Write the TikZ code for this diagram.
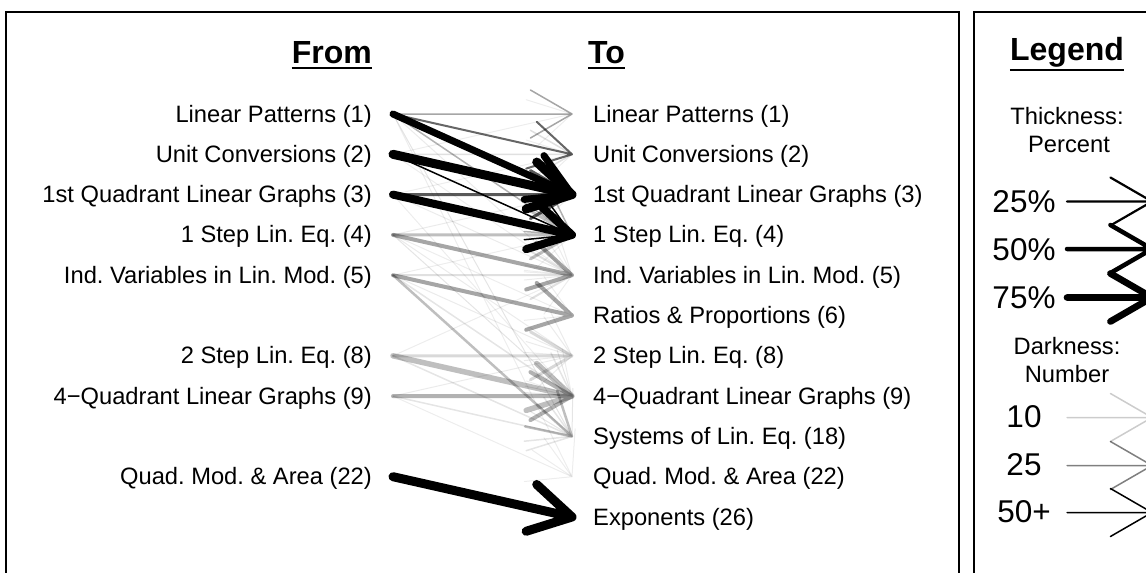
\documentclass[tikz,border=0pt]{standalone}
\usepackage{fontspec}
\setmainfont{Liberation Sans}
\usetikzlibrary{calc}
\frenchspacing
\tikzset{
 lab/.style={inner sep=0pt, font=\fontsize{23.7}{28}\selectfont},
 hdr/.style={inner sep=0pt, font=\fontsize{32}{38}\selectfont\bfseries},
 big/.style={inner sep=0pt, font=\fontsize{31.5}{38}\selectfont},
 panel/.style={line width=2pt},
 flowline/.style={line cap=round, line join=round},
 uline/.style={line width=2pt},
}
\newcommand\flowarr[4]{\draw[flowline, line width=#3pt, draw opacity=#4] (#1) -- (#2) ($(#2)!48pt!30:(#1)$) -- (#2) -- ($(#2)!48pt!-30:(#1)$);}
\begin{document}
\begin{tikzpicture}[x=1pt,y=-1pt]
\useasboundingbox (0,0) rectangle (1146,573);
\clip (0,0) rectangle (1146,573);
% panels
\draw[panel] (6,600) -- (6,12) -- (959,12) -- (959,600);
\draw[panel] (974,600) -- (974,12) -- (1180,12);
% headers
\node[hdr, anchor=base east] (hfrom) at (372,63) {From};
\node[hdr, anchor=base west] (hto) at (588,63) {To};
\draw[uline] ($(hfrom.south west)+(0,4)$) -- ($(hfrom.south east)+(0,4)$);
\draw[uline] ($(hto.south west)+(0,4)$) -- ($(hto.south east)+(0,4)$);
% from labels
\node[lab, anchor=base east] (f1) at (372,122) {Linear Patterns (1)};
\node[lab, anchor=base east] (f2) at (372,162.3) {Unit Conversions (2)};
\node[lab, anchor=base east] (f3) at (372,202.6) {1st Quadrant Linear Graphs (3)};
\node[lab, anchor=base east] (f4) at (372,242.9) {1 Step Lin. Eq. (4)};
\node[lab, anchor=base east] (f5) at (372,283.2) {Ind. Variables in Lin. Mod. (5)};
\node[lab, anchor=base east] (f8) at (372,363.8) {2 Step Lin. Eq. (8)};
\node[lab, anchor=base east] (f9) at (372,404.1) {4−Quadrant Linear Graphs (9)};
\node[lab, anchor=base east] (f22) at (372,484.7) {Quad. Mod. \& Area (22)};
% to labels
\node[lab, anchor=base west] (t1) at (593,122) {Linear Patterns (1)};
\node[lab, anchor=base west] (t2) at (593,162.3) {Unit Conversions (2)};
\node[lab, anchor=base west] (t3) at (593,202.6) {1st Quadrant Linear Graphs (3)};
\node[lab, anchor=base west] (t4) at (593,242.9) {1 Step Lin. Eq. (4)};
\node[lab, anchor=base west] (t5) at (593,283.2) {Ind. Variables in Lin. Mod. (5)};
\node[lab, anchor=base west] (t6) at (593,323.5) {Ratios \& Proportions (6)};
\node[lab, anchor=base west] (t8) at (593,363.8) {2 Step Lin. Eq. (8)};
\node[lab, anchor=base west] (t9) at (593,404.1) {4−Quadrant Linear Graphs (9)};
\node[lab, anchor=base west] (t18) at (593,444.4) {Systems of Lin. Eq. (18)};
\node[lab, anchor=base west] (t22) at (593,484.7) {Quad. Mod. \& Area (22)};
\node[lab, anchor=base west] (t26) at (593,525) {Exponents (26)};
% arrow anchor coordinates
\coordinate (s1) at (393,114);
\coordinate (s2) at (393,154.3);
\coordinate (s3) at (393,194.6);
\coordinate (s4) at (393,234.9);
\coordinate (s5) at (393,275.2);
\coordinate (s8) at (393,355.8);
\coordinate (s9) at (393,396.1);
\coordinate (s22) at (393,476.7);
\coordinate (e1) at (572,114);
\coordinate (e2) at (572,154.3);
\coordinate (e3) at (572,194.6);
\coordinate (e4) at (572,234.9);
\coordinate (e5) at (572,275.2);
\coordinate (e6) at (572,315.5);
\coordinate (e8) at (572,355.8);
\coordinate (e9) at (572,396.1);
\coordinate (e18) at (572,436.4);
\coordinate (e22) at (572,476.7);
\coordinate (e26) at (572,517);
% faint flows
\flowarr{s1}{e5}{1}{0.08}
\flowarr{s1}{e18}{1}{0.1}
\flowarr{s1}{e22}{1}{0.07}
\flowarr{s2}{e1}{1}{0.07}
\flowarr{s2}{e5}{1}{0.07}
\flowarr{s3}{e2}{1}{0.07}
\flowarr{s3}{e5}{1}{0.08}
\flowarr{s3}{e9}{1}{0.07}
\flowarr{s4}{e3}{1}{0.08}
\flowarr{s4}{e8}{1}{0.08}
\flowarr{s4}{e9}{1}{0.1}
\flowarr{s4}{e6}{1}{0.07}
\flowarr{s5}{e8}{1}{0.08}
\flowarr{s5}{e9}{1.5}{0.1}
\flowarr{s5}{e4}{1}{0.07}
\flowarr{s8}{e5}{1}{0.07}
\flowarr{s8}{e18}{1.5}{0.1}
\flowarr{s9}{e8}{1}{0.08}
\flowarr{s9}{e18}{1.5}{0.1}
\flowarr{s9}{e22}{1}{0.07}
\flowarr{s2}{e2}{1.5}{0.12}
\flowarr{s5}{e5}{2}{0.12}
\flowarr{s8}{e8}{3}{0.15}
% gray flows
\flowarr{s4}{e4}{3}{0.25}
\flowarr{s5}{e18}{2.5}{0.25}
\flowarr{s8}{e9}{5.5}{0.25}
\flowarr{s9}{e9}{4}{0.3}
\flowarr{s4}{e5}{4}{0.35}
\flowarr{s5}{e6}{4}{0.35}
\flowarr{s1}{e1}{1.5}{0.35}
\flowarr{s1}{e4}{1.5}{0.3}
\flowarr{s1}{e2}{2}{0.6}
\flowarr{s3}{e3}{3}{0.65}
% black flows
\flowarr{s2}{e4}{1.5}{1}
\flowarr{s1}{e3}{7}{1}
\flowarr{s2}{e3}{9}{1}
\flowarr{s3}{e4}{8}{1}
\flowarr{s22}{e26}{9}{1}
% legend
\node[hdr, anchor=base] (hleg) at (1067,60) {Legend};
\draw[uline] ($(hleg.south west)+(0,3.5)$) -- ($(hleg.south east)+(0,3.5)$);
\node[lab, anchor=base] (lthick) at (1067,124) {Thickness:};
\node[lab, anchor=base] (lperc) at (1069,152) {Percent};
\node[big, anchor=base] (l25p) at (1024,212) {25\%};
\node[big, anchor=base] (l50p) at (1024,260) {50\%};
\node[big, anchor=base] (l75p) at (1024,308) {75\%};
\node[lab, anchor=base] (ldark) at (1067,354) {Darkness:};
\node[lab, anchor=base] (lnum) at (1067,382) {Number};
\node[big, anchor=base] (l10) at (1024,427) {10};
\node[big, anchor=base] (l25) at (1024,475) {25};
\node[big, anchor=base] (l50) at (1024,522) {50+};
\coordinate (ls1) at (1067,201.5);
\coordinate (le1) at (1152,201.5);
\coordinate (ls2) at (1067,249);
\coordinate (le2) at (1152,249);
\coordinate (ls3) at (1067,297.5);
\coordinate (le3) at (1152,297.5);
\coordinate (ls4) at (1067,417.5);
\coordinate (le4) at (1152,417.5);
\coordinate (ls5) at (1067,465.5);
\coordinate (le5) at (1152,465.5);
\coordinate (ls6) at (1067,512.5);
\coordinate (le6) at (1152,512.5);
\flowarr{ls1}{le1}{2.2}{1}
\flowarr{ls2}{le2}{4.5}{1}
\flowarr{ls3}{le3}{6.7}{1}
\flowarr{ls4}{le4}{1.5}{0.2}
\flowarr{ls5}{le5}{1.5}{0.5}
\flowarr{ls6}{le6}{1.5}{1}
\end{tikzpicture}
\end{document}
